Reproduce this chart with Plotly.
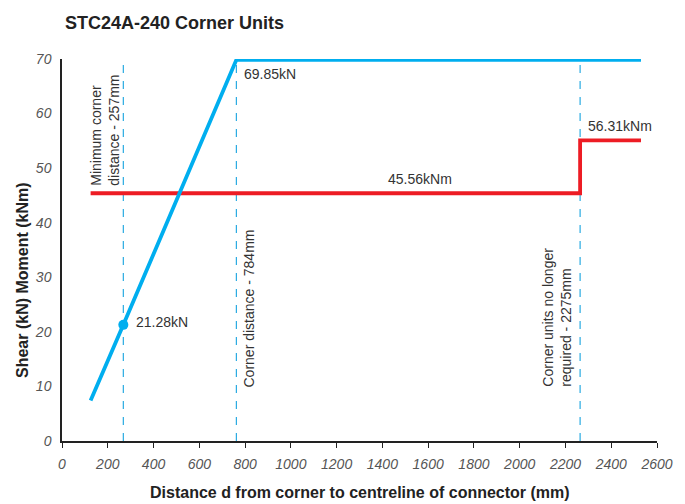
import plotly.graph_objects as go

# Data
shear_x = [125, 268, 762, 2530]
shear_y = [7.4, 21.28, 69.85, 69.85]
moment_x = [125, 2264, 2264, 2530]
moment_y = [45.4, 45.4, 55.1, 55.1]
point_x = [268]
point_y = [21.28]
guide_x = [268, 762, 2264]
guide_top = 71.3
x_ticks = [0, 200, 400, 600, 800, 1000, 1200, 1400, 1600, 1800, 2000, 2200, 2400, 2600]
y_ticks = [0, 10, 20, 30, 40, 50, 60, 70]

BLUE = "#00AEEF"
RED = "#ED1C24"
GUIDE = "#29ABE2"
TXT = "#333333"
FONT = "Liberation Sans, Arial, sans-serif"

fig = go.Figure()

fig.add_trace(go.Scatter(x=moment_x, y=moment_y, mode="lines",
                         line=dict(color=RED, width=3.8), showlegend=False,
                         hoverinfo="skip"))
fig.add_trace(go.Scatter(x=shear_x, y=shear_y, mode="lines",
                         line=dict(color=BLUE, width=3.8), showlegend=False,
                         hoverinfo="skip"))
fig.add_trace(go.Scatter(x=point_x, y=point_y, mode="markers",
                         marker=dict(color=BLUE, size=10), showlegend=False,
                         hoverinfo="skip"))

for gx in guide_x:
    fig.add_shape(type="line", xref="x", yref="y", x0=gx, x1=gx, y0=0, y1=guide_top,
                  line=dict(color=GUIDE, width=1.2, dash="8px,8px"), layer="below")

ann_font = dict(family=FONT, size=14, color=TXT)
annotations = [
    dict(x=790, y=67.2, text="69.85kN", xanchor="left", yanchor="middle"),
    dict(x=319, y=21.8, text="21.28kN", xanchor="left", yanchor="middle"),
    dict(x=1565, y=48.1, text="45.56kNm", xanchor="center", yanchor="middle"),
    dict(x=2295, y=57.7, text="56.31kNm", xanchor="left", yanchor="middle"),
    dict(x=188, y=46.5, text="Minimum corner<br>distance - 257mm", textangle=-90,
         xanchor="center", yanchor="bottom", align="left"),
    dict(x=819, y=9.7, text="Corner distance - 784mm", textangle=-90,
         xanchor="center", yanchor="bottom", align="left"),
    dict(x=2159, y=9.7, text="Corner units no longer<br>required - 2275mm", textangle=-90,
         xanchor="center", yanchor="bottom", align="left"),
]
for a in annotations:
    a.update(xref="x", yref="y", showarrow=False, font=ann_font, borderpad=0)
    fig.add_annotation(**a)

# Axis titles
fig.add_annotation(xref="paper", yref="paper", x=0.5, y=-0.134, yanchor="middle",
                   xanchor="center", showarrow=False,
                   text="<b>Distance d from corner to centreline of connector (mm)</b>",
                   font=dict(family=FONT, size=16, color="#222222"))
fig.add_annotation(xref="paper", yref="paper", x=-0.0655, xanchor="center",
                   y=0.4215, yanchor="middle", textangle=-90, showarrow=False,
                   text="<b>Shear (kN) Moment (kNm)</b>",
                   font=dict(family=FONT, size=16, color="#222222"))

fig.update_layout(
    width=685, height=504,
    margin=dict(l=62, r=28, t=59, b=63, autoexpand=False),
    paper_bgcolor="white", plot_bgcolor="white",
    title=dict(text="<b>STC24A-240 Corner Units</b>", x=65 / 685, xanchor="left",
               y=1 - 23 / 504, yanchor="middle",
               font=dict(family=FONT, size=18, color="#222222")),
    font=dict(family=FONT),
)
fig.update_xaxes(range=[0, 2600], tickvals=x_ticks, ticktext=[str(v) for v in x_ticks],
                 showgrid=False, zeroline=False, showline=True, linecolor="#222222",
                 linewidth=1.5, ticks="outside", ticklen=5, tickwidth=1.2,
                 tickcolor="#222222", ticklabelstandoff=4,
                 tickfont=dict(family=FONT, size=14, color="#555555", style="italic"))
fig.update_yaxes(range=[0, 70], tickvals=y_ticks, ticktext=[str(v) for v in y_ticks],
                 showgrid=False, zeroline=False, showline=True, linecolor="#222222",
                 linewidth=1.5, ticks="", ticklabelstandoff=6,
                 tickfont=dict(family=FONT, size=14, color="#555555", style="italic"))

fig.write_html("out.html", config={"displayModeBar": False},
               post_script="document.body.style.margin='0';document.body.style.padding='0';")
